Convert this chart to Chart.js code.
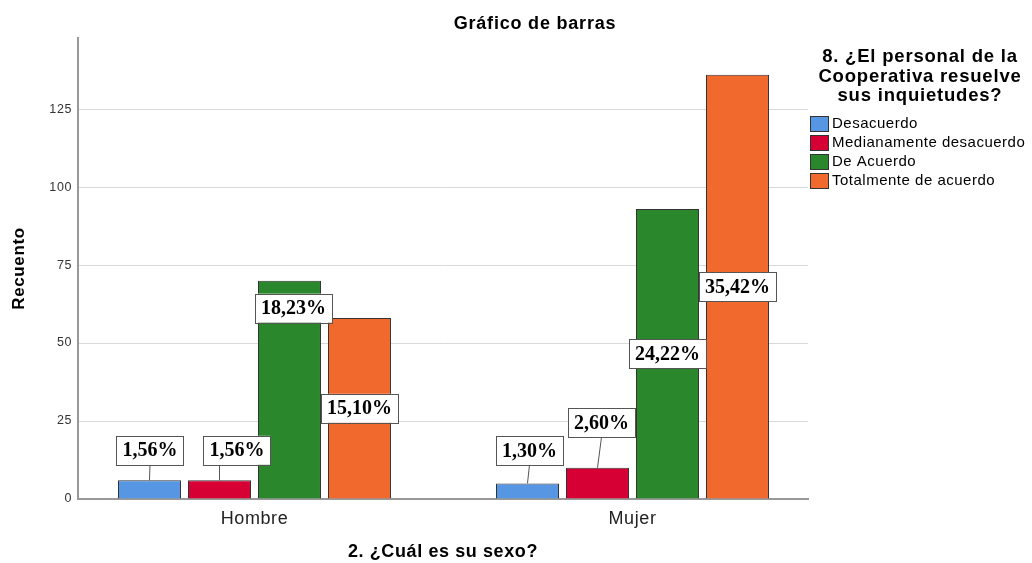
<!DOCTYPE html>
<html>
<head>
<meta charset="utf-8">
<script src="https://cdn.jsdelivr.net/npm/chart.js@4/dist/chart.umd.min.js"></script>
<style>
  html, body { margin: 0; padding: 0; background: #fff; }
  #wrap { width: 1032px; height: 563px; }
</style>
</head>
<body>
<div id="wrap"><canvas id="chart"></canvas></div>
<script>
const categories = ['Hombre', 'Mujer'];
const seriesNames = ['Desacuerdo', 'Medianamente desacuerdo', 'De Acuerdo', 'Totalmente de acuerdo'];
const desacuerdo = [6, 5];
const medianamente = [6, 10];
const deAcuerdo = [70, 93];
const totalmente = [58, 136];
const yTicks = [0, 25, 50, 75, 100, 125];

const colors = ['#5796e3', '#d70034', '#2b872b', '#f2692e'];
const FONT = '"Liberation Sans", Arial, sans-serif';

const allSeries = [desacuerdo, medianamente, deAcuerdo, totalmente];
const total = allSeries.flat().reduce((a, b) => a + b, 0);

const datasets = allSeries.map((vals, i) => ({
  label: seriesNames[i],
  data: vals.map((v, j) => ({x: j, y: v})),
  backgroundColor: colors[i],
  borderColor: '#333',
  borderWidth: 1,
  categoryPercentage: 0.7407,
  barPercentage: 0.9
}));

// where each percent box sits, relative to its bar (dx, dy in px; 'top' or 'mid' of bar)
const labelPlace = [
  [{dx: 0.5, dy: -30, from: 'top'}, {dx: 2, dy: -33, from: 'top'}],
  [{dx: 17.5, dy: -30, from: 'top'}, {dx: 4, dy: -45, from: 'top'}],
  [{dx: 4, dy: 27.5, from: 'top'}, {dx: 0, dy: 0, from: 'mid'}],
  [{dx: 0, dy: 0, from: 'mid'}, {dx: 0, dy: 0, from: 'mid'}]
];

const extras = {
  id: 'extras',
  beforeDraw(chart) {
    chart.ctx.letterSpacing = '0.6px';
  },
  afterDatasetsDraw(chart) {
    const ctx = chart.ctx;
    ctx.save();
    ctx.letterSpacing = '0px';
    ctx.font = 'bold 20px "Liberation Serif", "Times New Roman", serif';
    ctx.textAlign = 'center';
    ctx.textBaseline = 'middle';
    chart.data.datasets.forEach((ds, di) => {
      const meta = chart.getDatasetMeta(di);
      meta.data.forEach((bar, j) => {
        const p = labelPlace[di][j];
        const v = ds.data[j].y;
        const txt = (v / total * 100).toFixed(2).replace('.', ',') + '%';
        const cx = bar.x + p.dx;
        const cy = (p.from === 'mid' ? (bar.y + bar.base) / 2 : bar.y) + p.dy;
        const w = ctx.measureText(txt).width + 12;
        const h = 29;
        if (p.from === 'top' && p.dy < 0) {
          const lx = Math.abs(p.dx) > 8 ? bar.x : cx;
          ctx.strokeStyle = '#555';
          ctx.lineWidth = 1;
          ctx.beginPath();
          ctx.moveTo(lx, cy + h / 2);
          ctx.lineTo(bar.x, bar.y);
          ctx.stroke();
        }
        ctx.fillStyle = '#fff';
        ctx.fillRect(cx - w / 2, cy - h / 2, w, h);
        ctx.strokeStyle = '#555';
        ctx.lineWidth = 1;
        ctx.strokeRect(Math.round(cx - w / 2) + 0.5, Math.round(cy - h / 2) + 0.5, Math.round(w), h);
        ctx.fillStyle = '#000';
        ctx.fillText(txt, cx, cy + 1);
      });
    });
    ctx.restore();
  },
  afterDraw(chart) {
    const ctx = chart.ctx;
    ctx.save();
    ctx.fillStyle = '#000';
    ctx.textAlign = 'center';
    ctx.textBaseline = 'middle';
    ctx.letterSpacing = '0.8px';
    ctx.font = 'bold 18px ' + FONT;
    ctx.fillText('Gráfico de barras', 535, 24);

    ctx.font = 'bold 18.5px ' + FONT;
    ['8. ¿El personal de la', 'Cooperativa resuelve', 'sus inquietudes?'].forEach((t, i) => {
      ctx.fillText(t, 920, 57 + i * 19.5);
    });

    ctx.letterSpacing = '0.5px';
    ctx.font = '15px ' + FONT;
    ctx.textAlign = 'left';
    seriesNames.forEach((name, i) => {
      const y = 123 + i * 19;
      ctx.fillStyle = colors[i];
      ctx.fillRect(810, y - 7, 18, 15);
      ctx.strokeStyle = '#333';
      ctx.lineWidth = 1;
      ctx.strokeRect(810.5, y - 6.5, 18, 15);
      ctx.fillStyle = '#000';
      ctx.fillText(name, 832, y + 1);
    });
    ctx.restore();
  }
};

new Chart(document.getElementById('chart'), {
  type: 'bar',
  data: { datasets },
  options: {
    responsive: true,
    maintainAspectRatio: false,
    animation: false,
    layout: { padding: { left: 0, right: 224, top: 38, bottom: 0 } },
    plugins: {
      legend: { display: false },
      tooltip: { enabled: false }
    },
    scales: {
      x: {
        type: 'linear',
        offset: false,
        min: -0.4669,
        max: 1.4643,
        afterBuildTicks: s => { s.ticks = categories.map((c, i) => ({value: i})); },
        afterFit: s => { s.height = 64; },
        grid: { display: false, drawTicks: false },
        border: { display: true, color: '#999', width: 2 },
        ticks: {
          callback: v => categories[v],
          font: { family: FONT, size: 18 },
          color: '#222',
          padding: 9,
          maxRotation: 0
        },
        title: {
          display: true,
          text: '2. ¿Cuál es su sexo?',
          font: { family: FONT, size: 18, weight: 'bold' },
          color: '#000',
          padding: { top: 0, bottom: 0 }
        }
      },
      y: {
        min: 0,
        max: 147.8,
        afterBuildTicks: s => { s.ticks = yTicks.map(v => ({value: v})); },
        afterFit: s => { s.width = 78; },
        grid: { color: '#d9d9d9', lineWidth: 1, drawTicks: false },
        border: { display: true, color: '#999', width: 2 },
        ticks: {
          font: { family: FONT, size: 12.5 },
          color: '#333',
          padding: 6
        },
        title: {
          display: true,
          text: 'Recuento',
          font: { family: FONT, size: 17, weight: 'bold' },
          color: '#000',
          padding: { top: 9, bottom: 0 }
        }
      }
    }
  },
  plugins: [extras]
});
</script>
</body>
</html>
